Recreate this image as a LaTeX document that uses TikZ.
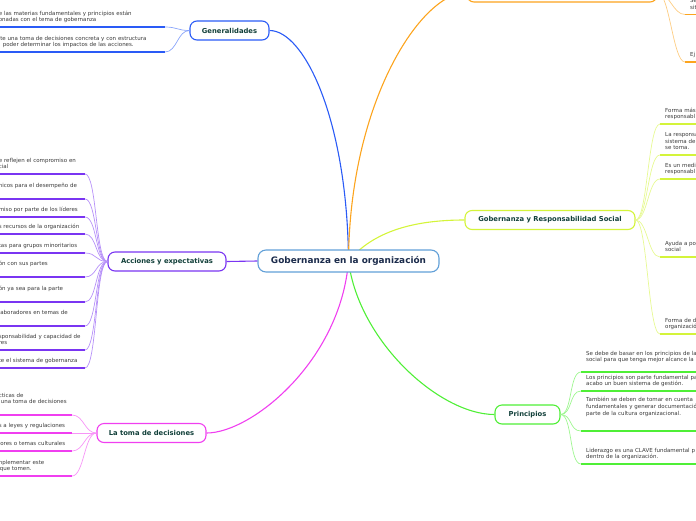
\documentclass[tikz,border=0pt]{standalone}
\usepackage{fontspec}
\setmainfont{DejaVu Sans}
\usetikzlibrary{backgrounds}
\definecolor{colorcentral}{HTML}{62A0D8}
\definecolor{colorcentraltext}{HTML}{1B2B4B}
\definecolor{colortopictext}{HTML}{12403A}
\definecolor{colorleaftext}{HTML}{3A3A3A}
\definecolor{colorblue}{HTML}{2A5BF6}
\definecolor{colororange}{HTML}{FCA41E}
\definecolor{coloryellow}{HTML}{D4F43A}
\definecolor{colorgreen}{HTML}{4FEF36}
\definecolor{colormagenta}{HTML}{F03FF0}
\definecolor{colorpurple}{HTML}{7A35F2}

\begin{document}
\begin{tikzpicture}[
    % pixel grid of the map, y pointing down
    x=1pt, y=-1pt,
    % main topic in the middle
    central/.style={
        rectangle,
        draw=colorcentral,
        fill=white,
        rounded corners=8pt,
        line width=1.1pt,
        minimum width=181pt,
        minimum height=22pt,
        inner sep=0pt,
        text=colorcentraltext,
        font=\fontsize{8.9}{10}\selectfont\bfseries
    },
    % the six sub topics
    topic/.style={
        rectangle,
        draw=#1,
        fill=white,
        rounded corners=7pt,
        line width=1.1pt,
        minimum height=19pt,
        inner sep=0pt,
        text=colortopictext,
        font=\fontsize{6.8}{8}\selectfont\bfseries
    },
    % underlined notes
    leaf/.style={
        align=left,
        inner ysep=3pt,
        text=colorleaftext,
        font=\fontsize{5.5}{6.7}\selectfont,
        execute at end node={\strut}
    },
    leafleft/.style={leaf, anchor=south east, inner xsep=0pt, text width=#1},
    leafright/.style={leaf, anchor=south west, inner xsep=5pt, text width=160pt},
    underline/.style={draw=#1, line width=1.6pt},
    branch/.style={draw=#1, line width=1.1pt},
    twig/.style={draw=#1!55, line width=0.7pt}
]
\useasboundingbox (0,0) rectangle (696,520);
\clip (0,0) rectangle (696,520);

% ==============================
% Topics
% ==============================
\node[central] (gob) at (348.5,261) {Gobernanza en la organización};

\node[topic=colorblue, minimum width=79pt] (gen) at (229.5,30.5) {Generalidades};
\node[topic=colororange, minimum width=190pt] (top) at (562,-7.5) {};
\node[topic=coloryellow, minimum width=170pt] (grs) at (550,220) {Gobernanza y Responsabilidad Social};
\node[topic=colorgreen, minimum width=65pt] (prin) at (527.5,414.5) {Principios};
\node[topic=colormagenta, minimum width=109pt] (toma) at (151.5,433) {La toma de decisiones};
\node[topic=colorpurple, minimum width=118pt] (acc) at (167,261.5) {Acciones y expectativas};

% ==============================
% Notes, left side
% ==============================
\node[leafleft=166pt] (gen1) at (165,27) {e las materias fundamentales y principios están\\onadas con el tema de gobernanza};
\node[leafleft=166pt] (gen2) at (165,52) {ite una toma de decisiones concreta y con estructura\\\hspace*{4pt}poder determinar los impactos de las acciones.};

\node[leafleft=86pt] (acc1) at (85,174) {e reflejen el compromiso en\\cial};
\node[leafleft=86pt, inner ysep=9.5pt] (acc2) at (85,199) {nicos para el desempeño de};
\node[leafleft=86pt] (acc3) at (85,217) {miso por parte de los líderes};
\node[leafleft=86pt] (acc4) at (85,234) {s recursos de la organización};
\node[leafleft=86pt] (acc5) at (85,253) {tas para grupos minoritarios};
\node[leafleft=86pt, inner ysep=9.5pt] (acc6) at (85,277) {ón con sus partes};
\node[leafleft=86pt, inner ysep=9.5pt] (acc7) at (85,302) {ón ya sea para la parte};
\node[leafleft=86pt, inner ysep=9.5pt] (acc8) at (85,326) {laboradores en temas de};
\node[leafleft=86pt] (acc9) at (85,350) {sponsabilidad y capacidad de\\res};
\node[leafleft=86pt] (acc10) at (85,368) {te el sistema de gobernanza};

\node[leafleft=73pt, inner ysep=9pt] (toma1) at (72,415) {cticas de\\\hspace*{2pt}una toma de decisiones};
\node[leafleft=73pt] (toma2) at (72,433) {s a leyes y regulaciones};
\node[leafleft=73pt] (toma3) at (72,451) {lores o temas culturales};
\node[leafleft=73pt] (toma4) at (72,476) {nplementar este\\\hspace*{1pt}que tomen.};

% ==============================
% Notes, right side
% ==============================
\node[leafright] (top1) at (685,14.5) {Se\\sit};
\node[leafright] (top2) at (685,62) {Ej};

\node[leafright] (grs1) at (660,124) {Forma más\\responsabl};
\node[leafright] (grs2) at (660,155) {La responsa\\sistema de\\se toma.};
\node[leafright] (grs3) at (660,179) {Es un medi\\responsabl};
\node[leafright] (grs4) at (660,257) {Ayuda a po\\social};
\node[leafright] (grs5) at (660,334) {Forma de d\\organizació};

\node[leafright, inner ysep=8pt] (prin1) at (581,372) {Se debe de basar en los principios de la\\social para que tenga mejor alcance la};
\node[leafright] (prin2) at (581,391) {Los principios son parte fundamental pa\\acabo un buen sistema de gestión.};
\node[leafright, inner ysep=13.5pt] (prin3) at (581,431) {También se deben de tomar en cuenta\\fundamentales y generar documentació\\parte de la cultura organizacional.};
\node[leafright] (prin4) at (581,464) {Liderazgo es una CLAVE fundamental p\\dentro de la organización.};

% ==============================
% Connectors
% ==============================
\begin{scope}[on background layer]
    \clip (0,0) rectangle (696,520);
    \draw[branch=colorblue] (gob.center) .. controls +(-1,-140) and +(35,0) .. (gen.east);
    \draw[branch=colororange] (gob.center) .. controls +(1,-160) and +(-45,0) .. (top.west);
    \draw[branch=coloryellow] (gob.center) .. controls +(25,-30) and +(-50,0) .. (grs.west);
    \draw[branch=colorgreen] (gob.center) .. controls +(10,80) and +(-55,0) .. (prin.west);
    \draw[branch=colormagenta] (gob.center) .. controls +(-8,100) and +(45,0) .. (toma.east);
\end{scope}
\draw[branch=colorpurple] (acc.east) -- (gob.west);

\foreach \name/\col/\n in {gen/colorblue/2, acc/colorpurple/10, toma/colormagenta/4} {
    \foreach \i in {1,...,\n} {
        \draw[underline=\col] (\name\i.south west) -- (\name\i.south east);
        \draw[twig=\col] (\name.west) .. controls +(-12,0) and +(12,0) .. (\name\i.south east);
    }
}
\foreach \name/\col/\n in {top/colororange/2, grs/coloryellow/5, prin/colorgreen/4} {
    \foreach \i in {1,...,\n} {
        \draw[underline=\col] (\name\i.south west) -- (\name\i.south east);
        \draw[twig=\col] (\name.east) .. controls +(12,0) and +(-12,0) .. (\name\i.south west);
    }
}

\end{tikzpicture}
\end{document}
